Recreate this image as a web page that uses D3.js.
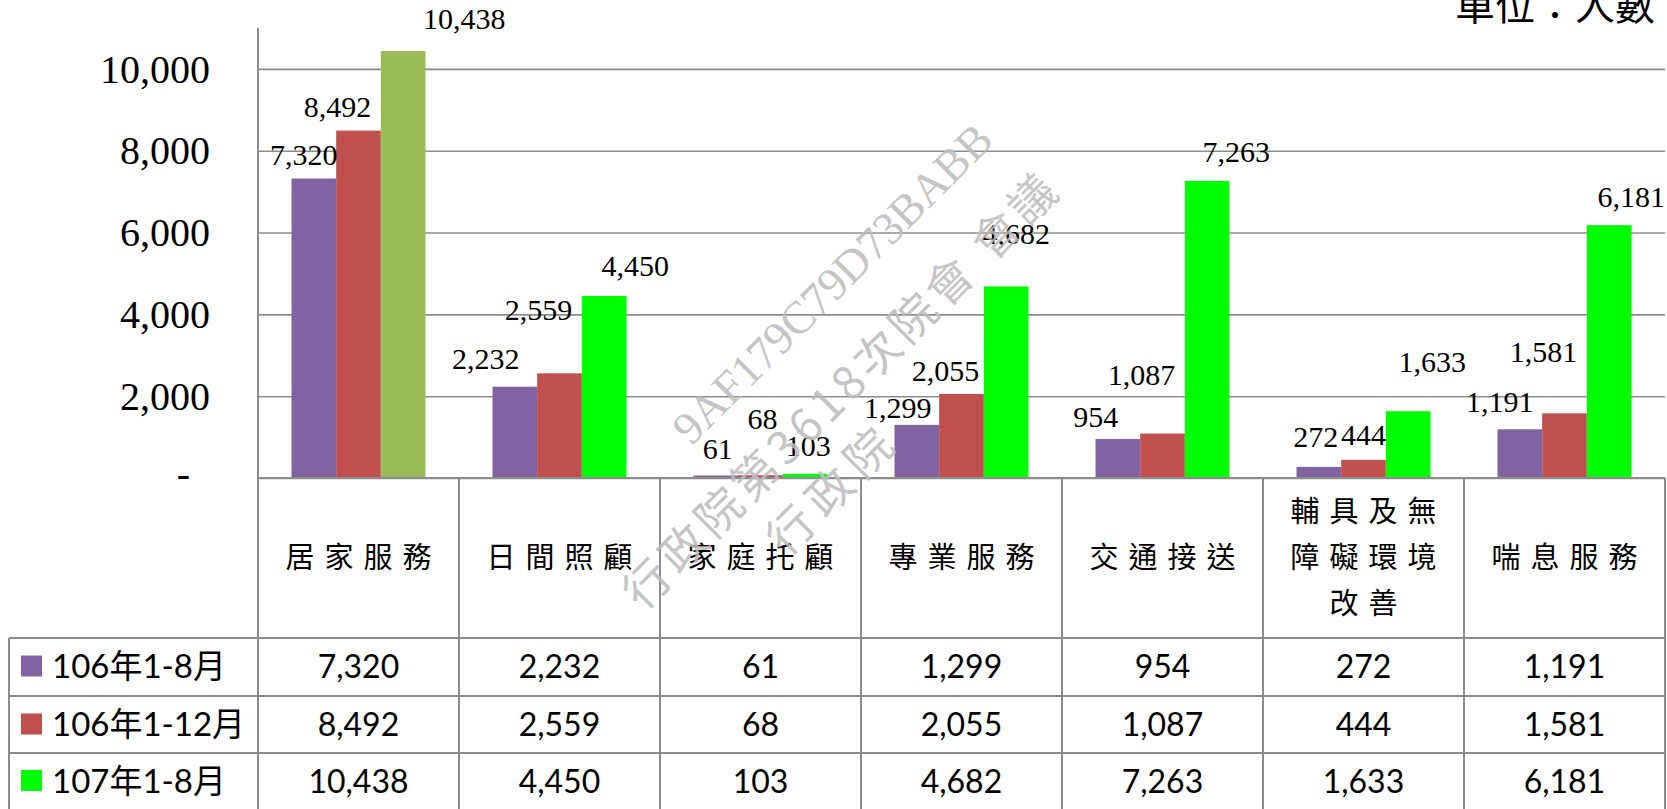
<!DOCTYPE html>
<html>
<head>
<meta charset="utf-8">
<script src="https://cdn.jsdelivr.net/npm/d3@7"></script>
<style>
  body { margin: 0; background: #fff; }
  svg { display: block; }
</style>
</head>
<body>
<div id="chart"></div>
<script>
'use strict'

// data
let categories = ["居家服務", "日間照顧", "家庭托顧", "專業服務", "交通接送", "輔具及無障礙環境改善", "喘息服務"]
let seriesNames = ["106年1-8月", "106年1-12月", "107年1-8月"]
let v106Aug = [7320, 2232, 61, 1299, 954, 272, 1191]
let v106Dec = [8492, 2559, 68, 2055, 1087, 444, 1581]
let v107Aug = [10438, 4450, 103, 4682, 7263, 1633, 6181]
let yTicks = [0, 2000, 4000, 6000, 8000, 10000]
let series = [v106Aug, v106Dec, v107Aug]

// layout
let width = 1667
let height = 809
let x0 = 258, x1 = 1665
let yTop = 28, yBase = 478
let rowLines = [638, 696, 753]
let legendLeft = 9
let colors = ["#8064A2", "#C0504D", "#00FF00"]
let firstGreen = "#9BBB59"
let gridColor = "#8c8c8c"
let serif = "'Liberation Serif', 'Times New Roman', serif"
let cjk = "'Noto Sans CJK TC', 'Noto Sans CJK SC', sans-serif"
let sans = "Lato, 'Noto Sans CJK TC', sans-serif"

// hand placed data labels in the original (dx from bar centre, dy from bar top)
let labelNudge = [
  [[-10, -24], [-21, -24], [61, -32]],
  [[-29, -28], [-21, -64], [31, -30]],
  [[2, -27], [2, -57], [3, -28]],
  [[-19, -17], [-16, -23], [10, -53]],
  [[-22, -22], [-21, -59], [29, -29]],
  [[-3, -30], [0, -25], [24, -50]],
  [[-20, -28], [-21, -62], [22, -29]]
]

let svg = d3.select("#chart").append("svg")
  .attr("width", width)
  .attr("height", height)

let x = d3.scaleBand().domain(categories).range([x0, x1])
let xSub = d3.scaleBand().domain(d3.range(series.length))
  .range([0, x.bandwidth()]).paddingOuter(0.75).paddingInner(0)
let y = d3.scaleLinear().domain([0, 11000]).range([yBase, yTop])

// gridlines + tick labels
let yAxis = d3.axisLeft(y)
  .tickValues(yTicks)
  .tickSize(-(x1 - x0))
  .tickPadding(48)
  .tickFormat(d => d === 0 ? "-" : d3.format(",")(d))

let ga = svg.append("g")
  .attr("transform", "translate(" + x0 + ",0)")
  .call(yAxis)
ga.select(".domain").remove()
ga.selectAll("line")
  .attr("stroke", gridColor)
  .attr("stroke-width", 1.6)
ga.selectAll("text")
  .attr("font-family", serif)
  .attr("font-size", 40)
  .attr("fill", "#000")
  .attr("dy", "0.33em")
ga.selectAll(".tick").filter(d => d === 0).select("text")
  .attr("dx", -20)
  .attr("dy", "0.2em")

// bars
let groups = svg.append("g").selectAll("g")
  .data(categories)
  .enter()
  .append("g")
  .attr("transform", d => "translate(" + x(d) + ",0)")

groups.selectAll("rect")
  .data((c, ci) => series.map((s, si) => ({ ci: ci, si: si, v: s[ci] })))
  .enter()
  .append("rect")
  .attr("x", d => xSub(d.si))
  .attr("y", d => y(d.v))
  .attr("width", xSub.bandwidth())
  .attr("height", d => yBase - y(d.v))
  .attr("fill", d => (d.ci === 0 && d.si === 2) ? firstGreen : colors[d.si])

groups.selectAll("text")
  .data((c, ci) => series.map((s, si) => ({ ci: ci, si: si, v: s[ci] })))
  .enter()
  .append("text")
  .attr("x", d => xSub(d.si) + xSub.bandwidth() / 2 + labelNudge[d.ci][d.si][0])
  .attr("y", d => y(d.v) + labelNudge[d.ci][d.si][1])
  .attr("text-anchor", "middle")
  .attr("dy", "0.35em")
  .attr("font-family", serif)
  .attr("font-size", 30)
  .text(d => d3.format(",")(d.v))

// table lines
let lines = svg.append("g")
  .attr("stroke", gridColor)
  .attr("stroke-width", 2)
lines.append("line")
  .attr("x1", x0).attr("x2", x0).attr("y1", yTop).attr("y2", height)
lines.append("line")
  .attr("x1", x0).attr("x2", x1).attr("y1", yBase).attr("y2", yBase)
categories.forEach(c => {
  lines.append("line")
    .attr("x1", x(c) + x.bandwidth()).attr("x2", x(c) + x.bandwidth())
    .attr("y1", yBase).attr("y2", height)
})
rowLines.forEach(r => {
  lines.append("line")
    .attr("x1", legendLeft).attr("x2", x1).attr("y1", r).attr("y2", r)
})
lines.append("line")
  .attr("x1", legendLeft).attr("x2", legendLeft).attr("y1", rowLines[0]).attr("y2", height)

// category labels, wrapped every 4 characters
let catLabels = svg.append("g").selectAll("text")
  .data(categories)
  .enter()
  .append("text")
  .attr("font-family", cjk)
  .attr("font-size", 29)
  .attr("letter-spacing", 10)
  .attr("text-anchor", "middle")

catLabels.each(function (c) {
  let parts = c.match(/.{1,4}/g)
  let mid = (yBase + rowLines[0]) / 2
  let lh = 46
  let sel = d3.select(this)
  parts.forEach((p, i) => {
    sel.append("tspan")
      .attr("x", x(c) + x.bandwidth() / 2 + 5)
      .attr("y", mid + (i - (parts.length - 1) / 2) * lh)
      .attr("dy", "0.36em")
      .text(p)
  })
})

// data table rows
series.forEach((s, si) => {
  let top = rowLines[si]
  let bottom = si + 1 < rowLines.length ? rowLines[si + 1] : height
  let mid = (top + Math.min(bottom, top + 57)) / 2

  svg.append("rect")
    .attr("x", 21)
    .attr("y", mid - 11)
    .attr("width", 21)
    .attr("height", 21)
    .attr("fill", colors[si])

  svg.append("text")
    .attr("x", 52)
    .attr("y", mid)
    .attr("dy", "0.36em")
    .attr("font-family", sans)
    .attr("font-size", 33)
    .text(seriesNames[si])

  svg.append("g").selectAll("text")
    .data(s)
    .enter()
    .append("text")
    .attr("x", (d, i) => x(categories[i]) + x.bandwidth() / 2)
    .attr("y", mid)
    .attr("dy", "0.36em")
    .attr("text-anchor", "middle")
    .attr("font-family", sans)
    .attr("font-size", 32)
    .text(d => d3.format(",")(d))
})

// unit (cut at the top edge, as in the original)
svg.append("text")
  .attr("x", 1655)
  .attr("y", 20)
  .attr("text-anchor", "end")
  .attr("font-family", cjk)
  .attr("font-size", 40)
  .text("單位：人數")

// watermark
let wm = svg.append("g")
  .attr("fill", "#bdbdbd")
  .attr("fill-opacity", 0.9)
let wmLines = [
  { t: "9AF179C79D73BABB", cx: 832, cy: 283, len: 430, f: serif, s: 46 },
  { t: "行政院第3618次院會 會議", cx: 840, cy: 392, len: 590, f: cjk, s: 46 },
  { t: "行政院", cx: 830, cy: 492, len: 155, f: cjk, s: 46 }
]
wmLines.forEach(w => {
  wm.append("text")
    .attr("transform", "translate(" + w.cx + "," + w.cy + ") rotate(-45)")
    .attr("text-anchor", "middle")
    .attr("dy", "0.35em")
    .attr("font-family", w.f)
    .attr("font-size", w.s)
    .attr("textLength", w.len)
    .attr("lengthAdjust", "spacing")
    .text(w.t)
})
</script>
</body>
</html>
